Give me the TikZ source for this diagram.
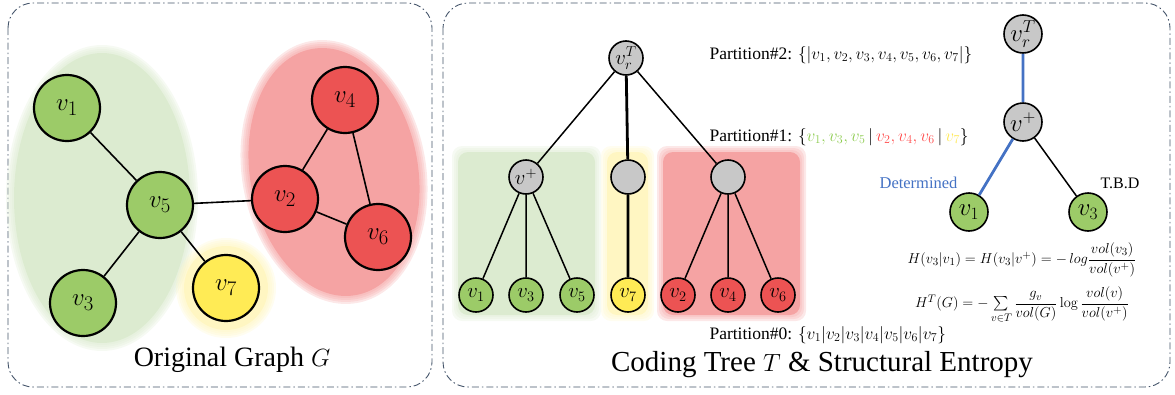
\documentclass[tikz,border=0pt]{standalone}
\usepackage{amsmath}
\usepackage[no-math]{fontspec}
\setmainfont{Liberation Serif}

\definecolor{gfill}{HTML}{9CCB68}
\definecolor{gbg}{HTML}{DCEBD0}
\definecolor{rfill}{HTML}{EC5353}
\definecolor{rbg}{HTML}{F5A3A3}
\definecolor{yfill}{HTML}{FFEB55}
\definecolor{ybg}{HTML}{FFF6C2}
\definecolor{nfill}{HTML}{C8C8C8}
\definecolor{framecol}{HTML}{44546A}
\definecolor{detblue}{HTML}{4472C4}
\definecolor{pgreen}{HTML}{8CCB4E}
\definecolor{pred}{HTML}{FF4B4B}
\definecolor{pyellow}{HTML}{FFE850}

\tikzset{
	vnode/.style={circle, draw=black, inner sep=0pt},
	bignode/.style={vnode, line width=2.2pt, minimum size=66pt, font=\fontsize{32}{32}\selectfont},
	treenode/.style={vnode, line width=1.6pt, minimum size=34pt, font=\fontsize{22}{22}\selectfont},
	sidenode/.style={vnode, line width=1.6pt, minimum size=38pt, font=\fontsize{24}{24}\selectfont},
	panel/.style={draw=framecol, line width=.9pt, rounded corners=25pt, dash pattern=on 7pt off 3pt on 1.5pt off 3pt},
	parttext/.style={anchor=west, font=\fontsize{17.5}{17.5}\selectfont},
}

\begin{document}
\begin{tikzpicture}[x=1pt, y=-1pt]
	\useasboundingbox (0,0) rectangle (1175,394);

	% \softellipse#center#rx#ry#angle#color
	\def\softellipse#1#2#3#4#5{
		\foreach \d in {8,6,4,2} {
			\fill[#5, opacity=.25, rotate around={#4:#1}] #1 ellipse [x radius=#2+\d, y radius=#3+\d];
		}
		\fill[#5, rotate around={#4:#1}] #1 ellipse [x radius=#2, y radius=#3];
	}

	% \softbox#x1#y1#x2#y2#color
	\def\softbox#1#2#3#4#5{
		\foreach \d in {6,4,2} {
			\fill[#5, opacity=.25, rounded corners=10pt] (#1-\d, #2-\d) rectangle (#3+\d, #4+\d);
		}
		\fill[#5, rounded corners=10pt] (#1, #2) rectangle (#3, #4);
	}

	% panels
	\draw[panel] (8,3) rectangle (432,387);
	\draw[panel] (443,3) rectangle (1170,387);

	% original graph
	\softellipse{(102,198)}{88}{145}{0}{gbg}
	\softellipse{(334,172)}{84}{125}{10}{rbg}
	\softellipse{(226,288)}{42}{42}{0}{ybg}

	\node[bignode, fill=gfill] (g1) at (67,108) {$v_1$};
	\node[bignode, fill=gfill] (g5) at (160,205) {$v_5$};
	\node[bignode, fill=gfill] (g3) at (83,303) {$v_3$};
	\node[bignode, fill=yfill] (g7) at (226,288) {$v_7$};
	\node[bignode, fill=rfill] (g2) at (285,199) {$v_2$};
	\node[bignode, fill=rfill] (g4) at (345,100) {$v_4$};
	\node[bignode, fill=rfill] (g6) at (378,237) {$v_6$};

	\draw[line width=1.6pt] (g1) -- (g5) (g5) -- (g3) (g5) -- (g7) (g5) -- (g2)
		(g2) -- (g4) (g4) -- (g6) (g2) -- (g6);

	\node[font=\fontsize{28}{28}\selectfont] (gtitle) at (232,360) {Original Graph $G$};

	% coding tree
	\softbox{458}{152}{595}{315}{gbg}
	\softbox{607}{152}{648}{315}{ybg}
	\softbox{663}{152}{800}{315}{rbg}

	\node[treenode, fill=nfill] (root) at (626,58) {$v_r^T$};
	\node[treenode, fill=nfill] (ca) at (526,177) {$v^+$};
	\node[treenode, fill=nfill] (cb) at (628,177) {};
	\node[treenode, fill=nfill] (cc) at (728,177) {};

	\node[treenode, fill=gfill] (t1) at (476,295) {$v_1$};
	\node[treenode, fill=gfill] (t3) at (526,295) {$v_3$};
	\node[treenode, fill=gfill] (t5) at (577,295) {$v_5$};
	\node[treenode, fill=yfill] (t7) at (628,295) {$v_7$};
	\node[treenode, fill=rfill] (t2) at (678,295) {$v_2$};
	\node[treenode, fill=rfill] (t4) at (728,295) {$v_4$};
	\node[treenode, fill=rfill] (t6) at (778,295) {$v_6$};

	\draw[line width=1.5pt] (root) -- (ca) (root) -- (cc)
		(ca) -- (t1) (ca) -- (t3) (ca) -- (t5)
		(cc) -- (t2) (cc) -- (t4) (cc) -- (t6);
	\draw[line width=2.8pt] (root) -- (cb) (cb) -- (t7);

	% partitions
	\node[parttext] (p2) at (706,55) {Partition\#2: $\{|v_1, v_2, v_3, v_4, v_5, v_6, v_7|\}$};
	\node[parttext] (p1) at (706,137) {Partition\#1: $\{\color{pgreen}v_1, v_3, v_5 \,\color{black}| \color{pred}\, v_2, v_4, v_6 \,\color{black}| \color{pyellow}\, v_7\color{black}\}$};
	\node[parttext] (p0) at (706,335) {Partition\#0: $\{v_1|v_2|v_3|v_4|v_5|v_6|v_7\}$};

	% one step of the tree
	\node[sidenode, fill=nfill] (sroot) at (1023,34) {$v_r^T$};
	\node[sidenode, fill=nfill] (splus) at (1023,122) {$v^+$};
	\node[sidenode, fill=gfill] (s1) at (969,212) {$v_1$};
	\node[sidenode, fill=gfill] (s3) at (1088,212) {$v_3$};

	\draw[line width=2.8pt, detblue] (sroot) -- (splus) (splus) -- (s1);
	\draw[line width=1.5pt] (splus) -- (s3);

	\node[anchor=east, text=detblue, font=\fontsize{16.5}{16.5}\selectfont] (det) at (961,183) {Determined};
	\node[anchor=west, font=\fontsize{16}{16}\selectfont] (tbd) at (1097,183) {T.B.D};

	\node[font=\fontsize{15}{15}\selectfont] (h1) at (1022,260)
		{$H(v_3|v_1) = H(v_3|v^+) = -\,log\dfrac{vol(v_3)}{vol(v^+)}$};
	\node[font=\fontsize{15}{15}\selectfont] (h2) at (1022,305)
		{$H^T(G) = -\sum\limits_{v\in T}\dfrac{g_v}{vol(G)}\log\dfrac{vol(v)}{vol(v^+)}$};

	\node[font=\fontsize{29}{29}\selectfont] (ttitle) at (822,365) {Coding Tree $T$ \& Structural Entropy};
\end{tikzpicture}
\end{document}
